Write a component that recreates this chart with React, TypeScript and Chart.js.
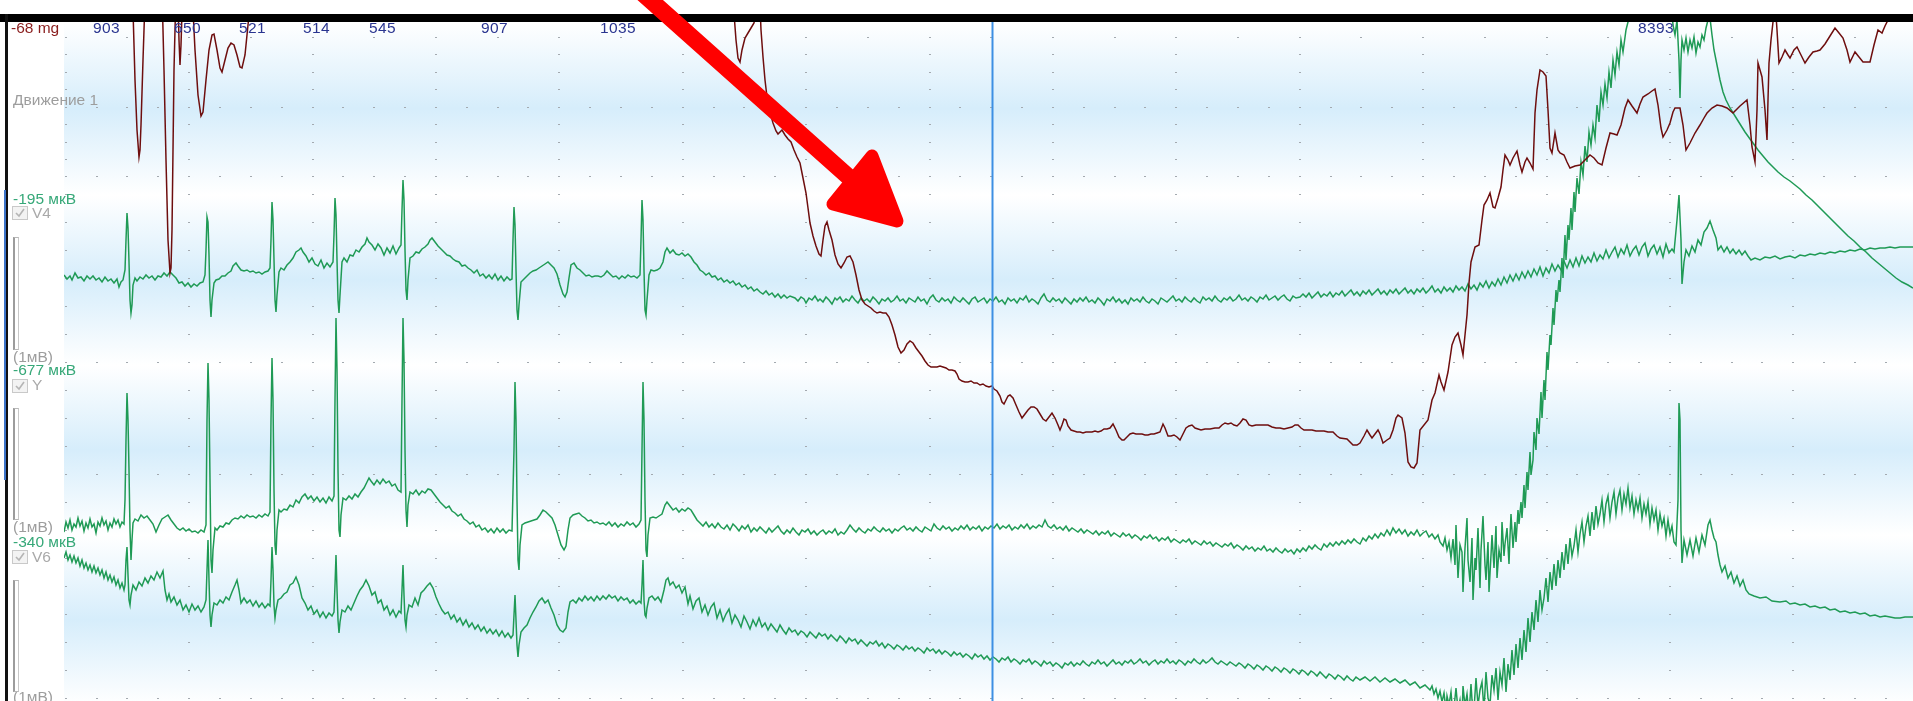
import React, { useEffect, useRef } from "react";
import { Chart, registerables } from "chart.js";

Chart.register(...registerables);

// ---------------- data (x = sample number, y = amplitude in display units, up positive) ----------------
const BEATS = [126, 207, 272, 336, 402, 514, 642, 1680];
const RR_MS = [903, 650, 521, 514, 545, 907, 1035, 8393];
const CURSOR_SAMPLE = 992;

// channel baselines on the shared vertical axis
const OFFSET_MOTION = 501;
const OFFSET_V4 = 421;
const OFFSET_Y = 171;
const OFFSET_V6 = 141;

const MOTION = [64,260, 100,280, 128,240, 133,190, 135,120, 137,70, 139,43, 140,50, 141,75, 143,140, 145,200, 148,260, 158,260, 162,210, 164,130, 166,40, 168,-40, 170,-73, 171,-68, 172,-30, 173,50, 174,130, 176,210, 177,240, 179,160, 180,135, 181,155, 183,220, 187,250, 192,210, 195,150, 198,105, 201,84, 203,88, 206,120, 209,150, 212,165, 214,166, 217,150, 220,132, 222,128, 225,140, 228,152, 231,157, 234,155, 237,145, 240,133, 242,132, 245,145, 247,165, 249,185, 252,220, 260,260, 400,280, 600,290, 725,240, 733,200, 736,160, 738,142, 740,138, 742,150, 745,162, 748,167, 751,172, 754,177, 756,190, 758,210, 760,195, 761,170, 763,143, 765,120, 767,103, 770,88, 773,77, 776,69, 778,66, 780,68, 782,70, 785,65, 788,61, 791,58, 794,50, 797,43, 800,37, 803,22, 806,7, 808,-8, 810,-23, 813,-36, 816,-46, 819,-54, 821,-56, 823,-40, 825,-26, 827,-22, 829,-30, 832,-40, 835,-55, 838,-64, 841,-68, 844,-63, 847,-57, 850,-56, 853,-62, 856,-75, 859,-90, 862,-100, 865,-104, 868,-106, 871,-108, 874,-111, 877,-113, 880,-112, 883,-113, 886,-113, 889,-117, 892,-125, 895,-135, 898,-147, 901,-153, 904,-150, 907,-144, 910,-141, 913,-143, 916,-148, 919,-152, 922,-156, 925,-161, 928,-165, 931,-167, 934,-167, 937,-167, 940,-166, 943,-167, 946,-168, 949,-170, 952,-170, 955,-171, 957,-174, 959,-179, 962,-181, 965,-182, 968,-182, 971,-181, 974,-183, 977,-183, 980,-185, 983,-184, 986,-186, 989,-187, 992,-186, 994,-189, 997,-191, 1000,-196, 1002,-202, 1004,-204, 1006,-200, 1008,-196, 1010,-195, 1013,-198, 1016,-205, 1019,-212, 1022,-218, 1025,-214, 1028,-210, 1031,-207, 1034,-207, 1037,-209, 1040,-214, 1043,-219, 1046,-221, 1049,-217, 1052,-213, 1055,-218, 1058,-225, 1060,-230, 1062,-225, 1064,-219, 1066,-220, 1068,-226, 1071,-230, 1074,-231, 1077,-232, 1080,-232, 1083,-233, 1086,-232, 1089,-232, 1092,-232, 1095,-231, 1098,-232, 1101,-231, 1104,-229, 1107,-229, 1110,-228, 1113,-224, 1116,-230, 1119,-237, 1122,-240, 1124,-240, 1127,-237, 1130,-234, 1133,-233, 1136,-234, 1139,-234, 1142,-234, 1145,-235, 1148,-235, 1151,-234, 1154,-234, 1157,-233, 1160,-232, 1163,-224, 1165,-228, 1168,-236, 1171,-236, 1174,-235, 1177,-237, 1180,-240, 1183,-234, 1186,-228, 1189,-226, 1192,-225, 1195,-228, 1198,-229, 1201,-230, 1205,-229, 1210,-229, 1215,-228, 1219,-228, 1222,-225, 1225,-223, 1228,-224, 1231,-223, 1234,-225, 1237,-226, 1240,-223, 1243,-219, 1246,-220, 1249,-225, 1252,-226, 1256,-225, 1260,-225, 1264,-225, 1268,-225, 1272,-227, 1276,-228, 1280,-228, 1284,-229, 1288,-228, 1292,-227, 1295,-225, 1298,-225, 1301,-228, 1304,-230, 1308,-230, 1312,-230, 1316,-231, 1320,-231, 1324,-231, 1328,-232, 1333,-232, 1337,-236, 1340,-238, 1347,-239, 1353,-245, 1357,-245, 1360,-243, 1364,-236, 1367,-230, 1370,-235, 1372,-238, 1375,-234, 1378,-230, 1380,-234, 1383,-243, 1387,-240, 1390,-238, 1393,-230, 1396,-218, 1398,-215, 1402,-218, 1405,-233, 1408,-262, 1411,-267, 1414,-268, 1417,-263, 1420,-230, 1424,-225, 1428,-220, 1432,-200, 1435,-193, 1439,-175, 1441,-182, 1444,-190, 1448,-172, 1452,-145, 1455,-137, 1458,-133, 1461,-145, 1463,-155, 1465,-135, 1467,-115, 1469,-83, 1471,-62, 1475,-47, 1479,-45, 1482,-20, 1484,-5, 1487,0, 1490,7, 1493,-7, 1495,-8, 1498,2, 1501,13, 1503,30, 1505,45, 1508,40, 1510,35, 1513,42, 1517,49, 1520,35, 1522,28, 1525,38, 1527,42, 1530,37, 1533,31, 1535,87, 1537,110, 1540,130, 1543,128, 1546,124, 1548,90, 1550,52, 1552,47, 1555,67, 1558,50, 1560,47, 1564,45, 1567,38, 1570,32, 1575,34, 1580,35, 1585,40, 1590,45, 1594,42, 1598,37, 1602,35, 1606,52, 1610,67, 1614,66, 1617,65, 1621,75, 1625,92, 1628,100, 1632,94, 1637,87, 1640,96, 1643,103, 1648,106, 1652,109, 1655,111, 1658,95, 1661,72, 1663,63, 1667,70, 1670,77, 1673,88, 1675,92, 1680,92, 1683,75, 1686,50, 1690,57, 1695,67, 1700,75, 1704,82, 1707,87, 1712,92, 1717,95, 1722,94, 1727,92, 1733,87, 1740,94, 1747,100, 1750,75, 1752,53, 1755,38, 1757,90, 1758,137, 1760,130, 1762,123, 1765,90, 1767,60, 1768,100, 1769,137, 1771,160, 1773,178, 1775,200, 1777,170, 1779,137, 1782,143, 1785,150, 1788,145, 1790,142, 1794,150, 1797,153, 1801,145, 1805,137, 1809,143, 1813,148, 1817,149, 1820,150, 1825,156, 1830,164, 1835,172, 1839,167, 1843,162, 1847,150, 1850,138, 1853,144, 1855,148, 1859,143, 1863,138, 1867,138, 1870,138, 1874,155, 1878,170, 1882,167, 1885,174, 1887,178, 1890,192, 1895,210, 1913,240];

const V4 = [64,5, 67,1, 70,4, 72,0, 75,7, 78,2, 81,3, 84,-1, 87,4, 90,1, 93,4, 96,0, 99,2, 102,-2, 105,3, 108,-1, 111,1, 114,-3, 117,1, 119,-7, 121,-2, 123,0,
125,10, 126,40, 127,67, 128,52, 129,18, 130,-20, 131,-33, 132,-25, 133,-5, 135,2,
137,-1, 140,3, 143,1, 146,5, 149,2, 152,4, 155,0, 158,4, 161,3, 164,7, 167,4, 170,8, 173,5, 176,2, 179,-3, 182,-2, 185,-6, 188,-3, 191,-7, 194,-4, 197,-6, 200,-3, 203,-2, 205,5,
206,30, 207,63, 208,58, 209,25, 210,-20, 211,-37, 212,-20, 214,-3,
216,0, 219,1, 222,4, 225,4, 228,7, 231,9, 233,14, 236,17, 238,14, 241,10, 244,9, 247,10, 250,8, 253,9, 256,7, 259,8, 262,6, 265,8, 268,9, 270,12,
271,40, 272,78, 273,60, 274,20, 275,-20, 276,-32, 277,-15, 279,8,
281,12, 284,10, 287,15, 290,18, 293,22, 296,28, 299,30, 301,32, 303,28, 306,24, 309,18, 312,22, 315,16, 318,14, 321,20, 324,12, 327,17, 330,13, 333,18,
334,45, 335,82, 336,65, 337,20, 338,-20, 339,-33, 340,-15, 342,18,
344,22, 347,18, 350,25, 353,24, 356,30, 359,28, 362,33, 365,36, 367,42, 369,38, 372,35, 375,30, 378,36, 381,32, 384,25, 387,32, 390,27, 393,34, 396,26, 399,32, 401,35,
402,70, 403,100, 404,80, 405,30, 406,-10, 407,-20, 408,0, 410,22,
413,24, 416,28, 419,27, 422,31, 425,33, 428,36, 430,40, 432,42, 435,38, 438,34, 441,31, 444,28, 447,25, 450,24, 453,21, 456,19, 459,18, 462,14, 465,15, 468,12, 471,10, 474,7, 477,10, 480,4, 483,6, 486,2, 489,5, 492,1, 495,6, 498,0, 501,4, 504,-1, 507,3, 510,0, 512,1,
513,40, 514,73, 515,55, 516,10, 517,-30, 518,-40, 519,-25, 521,-2,
524,1, 527,4, 530,7, 533,9, 536,10, 539,12, 542,14, 545,16, 548,18, 551,15, 554,12, 557,6, 560,-5, 563,-14, 565,-17, 567,-12, 569,2, 571,15, 574,17, 577,12, 580,10, 583,7, 586,4, 589,5, 592,3, 595,4, 598,4, 601,3, 604,5, 607,9, 610,6, 613,3, 616,4, 619,1, 622,4, 625,2, 628,5, 631,3, 634,4, 637,2, 640,5,
641,40, 642,80, 643,60, 644,10, 645,-30, 646,-35, 647,-20, 649,5,
651,10, 654,9, 657,10, 660,12, 663,18, 665,28, 667,32, 670,27, 673,30, 676,26, 679,25, 682,27, 685,24, 688,26, 691,23, 694,18, 697,15, 700,10, 703,8, 706,5, 709,7, 712,3, 715,4, 718,0, 721,2, 724,-2, 727,0, 730,-3, 733,-1, 736,-5, 739,-3, 742,-7, 745,-5, 748,-9, 751,-7, 754,-11, 757,-9, 760,-12, 763,-14, 766,-11, 769,-15, 772,-13, 775,-17, 778,-14, 781,-18, 784,-15, 787,-18, 790,-16,
795,-18, 798,-21, 801,-17, 804,-19, 806,-23, 809,-18, 812,-20, 815,-16, 818,-21, 820,-19, 823,-22, 826,-17, 829,-20, 832,-24, 835,-18, 837,-20, 840,-17, 843,-22, 846,-19, 849,-21, 852,-16, 855,-20, 858,-23, 861,-18, 864,-21, 867,-19, 870,-22, 873,-17, 876,-20, 879,-24, 882,-19, 885,-21, 888,-18, 891,-22, 894,-20, 897,-16, 900,-21, 903,-19, 906,-23, 909,-18, 912,-20, 915,-22, 918,-17, 921,-21, 924,-19, 927,-24, 930,-18, 933,-15, 936,-20, 939,-22, 942,-18, 945,-21, 948,-19, 951,-23, 954,-17, 957,-20, 960,-22, 963,-18, 966,-21, 969,-24, 972,-19, 975,-17, 978,-22, 981,-20, 984,-18, 987,-23, 990,-19, 993,-21, 996,-17, 999,-22, 1002,-20, 1005,-24, 1008,-18, 1011,-21, 1014,-19, 1017,-23, 1020,-18, 1023,-20, 1026,-16, 1029,-22, 1032,-19, 1035,-21, 1038,-24, 1041,-18, 1044,-14, 1047,-20, 1050,-22, 1053,-18, 1056,-21, 1059,-19, 1062,-23, 1065,-18, 1068,-21, 1071,-24, 1074,-19, 1077,-22, 1080,-18, 1083,-21, 1086,-17, 1089,-22, 1092,-20, 1095,-23, 1098,-18, 1101,-21, 1104,-25, 1107,-19, 1110,-21, 1113,-17, 1116,-22, 1119,-19, 1122,-23, 1125,-20, 1128,-24, 1131,-18, 1134,-21, 1137,-19, 1140,-22, 1143,-17, 1146,-21, 1149,-23, 1152,-19, 1155,-21, 1158,-24, 1161,-18, 1164,-20, 1167,-22, 1170,-19, 1173,-16, 1176,-21, 1179,-19, 1182,-22, 1185,-17, 1188,-20, 1191,-22, 1194,-18, 1197,-21, 1200,-23, 1203,-17, 1206,-20, 1209,-18, 1212,-21, 1215,-16, 1218,-20, 1221,-22, 1224,-18, 1227,-20, 1230,-17, 1233,-21, 1236,-19, 1239,-15, 1242,-20, 1245,-18, 1248,-21, 1251,-17, 1254,-19, 1257,-22, 1260,-17, 1263,-19, 1266,-15, 1269,-20, 1272,-18, 1275,-16, 1278,-20, 1281,-17, 1284,-15, 1287,-19, 1290,-21, 1293,-16, 1296,-18, 1300,-17,
1303,-14, 1306,-17, 1309,-13, 1312,-18, 1315,-15, 1318,-12, 1321,-17, 1324,-14, 1327,-16, 1330,-12, 1333,-17, 1336,-13, 1339,-15, 1342,-11, 1345,-16, 1348,-13, 1351,-10, 1354,-15, 1357,-12, 1360,-16, 1363,-11, 1366,-14, 1369,-10, 1372,-15, 1375,-12, 1378,-9, 1381,-14, 1384,-11, 1387,-15, 1390,-10, 1393,-13, 1396,-9, 1399,-14, 1402,-11, 1405,-8, 1408,-13, 1411,-10, 1414,-14, 1417,-9, 1420,-12, 1423,-8, 1426,-13, 1429,-10, 1432,-6, 1435,-12, 1438,-9, 1441,-13, 1444,-7, 1447,-11, 1450,-8, 1453,-12, 1456,-6, 1459,-10, 1462,-7, 1465,-11, 1468,-4, 1471,-9, 1474,-5, 1477,-10, 1480,-3, 1483,-7, 1486,-1, 1489,-8, 1492,-2, 1495,-6, 1498,1, 1501,-5, 1504,3, 1507,-3, 1510,5, 1513,-1, 1516,6, 1519,0, 1522,8, 1525,2, 1528,9, 1531,3, 1534,11, 1537,5, 1540,13, 1543,4, 1546,12, 1549,7, 1552,16, 1555,9, 1558,15, 1561,10, 1564,19, 1567,12, 1570,20, 1573,13, 1576,22, 1579,14, 1582,24, 1585,17, 1588,23, 1591,18, 1594,27, 1597,19, 1600,25, 1603,21, 1606,30, 1609,22, 1612,28, 1615,33, 1618,23, 1621,31, 1624,26, 1627,35, 1630,24, 1633,30, 1636,34, 1639,25, 1642,33, 1645,37, 1648,24, 1651,31, 1654,35, 1657,26, 1660,33, 1663,23, 1666,36, 1669,27, 1672,31, 1674,28,
1677,60, 1679,85, 1681,40, 1682,-4, 1684,18, 1686,30, 1689,24, 1692,34, 1695,28, 1698,40, 1701,35, 1704,48, 1707,52, 1710,59, 1713,50, 1716,42, 1718,30, 1721,34, 1724,28, 1727,33, 1730,27, 1733,31, 1736,26, 1739,30, 1742,25, 1745,29, 1748,24, 1751,20,
1755,22, 1760,20, 1765,23, 1770,22, 1775,24, 1780,21, 1785,23, 1790,24, 1795,22, 1800,25, 1805,24, 1810,26, 1815,25, 1820,27, 1825,26, 1830,28, 1835,27, 1840,29, 1845,28, 1850,30, 1855,29, 1860,31, 1865,30, 1870,32, 1875,31, 1880,32, 1885,32, 1890,33, 1895,32, 1900,33, 1905,33, 1913,33];

const YLEAD = [64,-2, 66,8, 68,2, 70,10, 72,0, 74,6, 76,3, 78,12, 80,4, 82,9, 84,-1, 86,7, 88,2, 90,11, 92,3, 94,6, 96,-3, 98,8, 100,4, 102,12, 104,5, 106,9, 108,0, 110,7, 112,3, 114,11, 116,6, 118,10, 120,3, 122,8, 124,6,
125,30, 126,90, 127,137, 128,110, 129,60, 130,0, 131,-30, 132,-10, 133,7,
135,11, 138,9, 141,15, 144,12, 147,14, 150,10, 153,6, 156,-2, 159,5, 162,11, 165,13, 168,15, 171,10, 174,6, 177,2, 180,0, 183,2, 186,-1, 189,1, 192,-2, 195,-1, 198,-3, 201,0, 204,-2, 206,5,
207,110, 208,167, 209,130, 210,50, 211,-30, 212,-43, 213,-20, 215,2,
217,0, 220,4, 223,3, 226,7, 229,6, 232,10, 235,12, 238,11, 241,14, 244,12, 247,15, 250,13, 253,14, 256,12, 259,15, 262,13, 265,16, 268,14, 270,18,
271,110, 272,172, 273,130, 274,40, 275,-15, 276,-25, 277,0, 279,20,
281,18, 284,21, 287,20, 290,25, 293,23, 296,30, 299,27, 302,33, 305,36, 308,31, 311,34, 314,29, 317,33, 320,28, 323,32, 326,27, 329,33, 332,29, 334,34,
335,130, 336,212, 337,160, 338,60, 339,0, 340,-7, 341,15, 343,32,
346,30, 349,34, 352,31, 355,36, 358,33, 361,38, 364,42, 367,48, 369,52, 371,49, 374,45, 377,50, 380,46, 383,51, 386,47, 389,49, 392,44, 395,46, 398,40, 401,38,
402,130, 403,212, 404,170, 405,80, 406,20, 407,3, 408,25, 410,38,
413,36, 416,40, 419,35, 422,39, 425,37, 428,41, 431,40, 434,36, 437,32, 440,28, 443,25, 446,22, 449,24, 452,19, 455,17, 458,14, 461,16, 464,11, 467,9, 470,6, 473,8, 476,3, 479,5, 482,0, 485,2, 488,-2, 491,1, 494,-3, 497,2, 500,-2, 503,1, 506,-3, 509,0, 512,-1,
514,80, 515,148, 516,110, 517,30, 518,-30, 519,-40, 520,-15, 522,5,
525,7, 528,8, 531,9, 534,10, 537,11, 540,15, 543,20, 546,18, 549,15, 552,12, 555,5, 558,-5, 561,-15, 564,-20, 566,-16, 568,0, 570,12, 573,15, 576,16, 579,17, 582,14, 585,12, 588,9, 591,10, 594,7, 597,8, 600,6, 603,7, 606,5, 609,8, 612,4, 615,7, 618,3, 621,6, 624,4, 627,8, 630,5, 633,7, 636,3, 639,6, 641,10,
642,80, 643,148, 644,110, 645,30, 646,-20, 647,-27, 648,-5, 650,12,
653,13, 656,12, 659,14, 662,16, 665,25, 667,28, 670,24, 673,20, 676,22, 679,18, 682,21, 685,19, 688,22, 691,20, 694,15, 697,10,
700,7, 703,4, 706,8, 709,3, 712,6, 715,2, 718,7, 721,3, 724,1, 727,5, 730,0, 733,6, 736,3, 739,-1, 742,4, 745,1, 748,5, 751,-2, 754,2, 757,-1, 760,3, 763,0, 766,-3, 769,2, 772,-2, 775,1, 778,4, 781,-1, 784,-4, 787,0, 790,-3, 793,2, 796,-2, 799,-5, 802,0, 805,-2, 808,1, 811,-4, 814,-1, 817,-5, 820,-2, 823,0, 826,-4, 829,-1, 832,-3, 835,1, 838,-5, 841,-2, 844,-4, 847,0, 850,5, 853,1, 856,-2, 859,2, 862,-1, 865,-3, 868,1, 871,-1, 874,3, 877,0, 880,-2, 883,2, 886,-1, 889,1, 892,-3, 895,1, 898,-1, 901,2, 904,4, 907,0, 910,2, 913,-1, 916,3, 919,0, 922,-2, 925,3, 928,1, 931,-1, 934,6, 937,2, 940,0, 943,4, 946,1, 949,3, 952,-1, 955,2, 958,0, 961,4, 964,1, 967,5, 970,0, 973,3, 976,1, 979,4, 982,-1, 985,3, 988,1, 991,4, 994,2, 997,6, 1000,1, 1003,4, 1006,2, 1009,5, 1012,0, 1015,3, 1018,1, 1021,5, 1024,2, 1027,6, 1030,1, 1033,4, 1036,2, 1039,5, 1042,3, 1045,10, 1048,4, 1051,2, 1054,5, 1057,1, 1060,3, 1063,0, 1066,4, 1069,-1, 1072,2, 1075,0, 1078,-2, 1081,1, 1084,-3, 1087,0, 1090,-2, 1093,-4, 1096,-1, 1099,-5, 1102,-2, 1105,-4, 1108,-1, 1111,-6, 1114,-3, 1117,-5, 1120,-7, 1123,-3, 1126,-6, 1129,-4, 1132,-8, 1135,-5, 1138,-7, 1141,-10, 1144,-6, 1147,-8, 1150,-5, 1153,-9, 1156,-7, 1159,-11, 1162,-8, 1165,-10, 1168,-7, 1171,-12, 1174,-9, 1177,-11, 1180,-13, 1183,-10, 1186,-12, 1189,-9, 1192,-14, 1195,-11, 1198,-13, 1201,-15, 1204,-11, 1207,-14, 1210,-12, 1213,-16, 1216,-13, 1219,-15, 1222,-17, 1225,-14, 1228,-16, 1231,-13, 1234,-18, 1237,-15, 1240,-17, 1243,-20, 1246,-16, 1249,-19, 1252,-17, 1255,-21, 1258,-18, 1261,-20, 1264,-16, 1267,-21, 1270,-19, 1273,-22, 1276,-18, 1279,-21, 1282,-23, 1285,-19, 1288,-22, 1291,-20, 1294,-24, 1297,-19, 1300,-22,
1303,-18, 1306,-21, 1309,-16, 1312,-19, 1315,-15, 1318,-18, 1321,-20, 1324,-14, 1327,-17, 1330,-13, 1333,-16, 1336,-12, 1339,-15, 1342,-11, 1345,-14, 1348,-10, 1351,-13, 1354,-9, 1357,-12, 1360,-14, 1363,-8, 1366,-11, 1369,-6, 1372,-9, 1375,-4, 1378,-8, 1381,-3, 1384,-6, 1387,0, 1390,-5, 1393,2, 1396,-3, 1399,1, 1402,-4, 1405,0, 1408,-6, 1411,-2, 1414,-5, 1417,0, 1420,-6, 1423,-3, 1426,-1, 1429,-7, 1432,-4, 1435,-9, 1438,-5, 1440,-12,
1443,-16, 1445,-8, 1447,-20, 1449,-12, 1451,-28, 1453,-9, 1455,-35, 1456,5, 1458,-48, 1460,-15, 1462,-22, 1463,-62, 1465,-18, 1467,12, 1468,-30, 1470,-52, 1472,-8, 1473,-70, 1475,-28, 1476,-40, 1478,2, 1480,-58, 1481,-20, 1483,14, 1485,-35, 1486,-50, 1488,-12, 1489,-62, 1491,-25, 1492,-5, 1494,-38, 1496,4, 1497,-48, 1499,-20, 1501,-32, 1502,8, 1504,-26, 1505,-14, 1507,2, 1509,-34, 1510,-6, 1511,16, 1513,-18, 1515,8, 1516,-12, 1518,20, 1519,6, 1521,28, 1522,12, 1524,45, 1525,22, 1527,58, 1528,40, 1530,78, 1531,55, 1533,70, 1534,98, 1536,80, 1537,112, 1539,96, 1541,138, 1542,112, 1544,150, 1545,130, 1547,178, 1548,160, 1550,195, 1551,185, 1553,222, 1554,205, 1556,240, 1557,228, 1559,250, 1560,238, 1562,272, 1563,252, 1565,295, 1566,270, 1568,305, 1569,290, 1571,322, 1572,300, 1574,338, 1575,318, 1577,352, 1579,336, 1581,368, 1583,355, 1585,384, 1587,368, 1589,398, 1591,385, 1593,405, 1595,392, 1597,425, 1599,408, 1601,438, 1603,425, 1605,446, 1607,432, 1609,458, 1611,442, 1613,470, 1615,455, 1617,478, 1619,465, 1621,490, 1623,478, 1626,500, 1629,512, 1632,525,
1640,550, 1660,560, 1670,540, 1673,505, 1675,495, 1677,510, 1679,470, 1680,432, 1681,470, 1682,490, 1684,480, 1686,492, 1688,478, 1690,490, 1692,482, 1694,493, 1696,477, 1698,488, 1700,483, 1702,495, 1704,490, 1706,502, 1708,510, 1710,512, 1712,495, 1714,480, 1717,465, 1720,450, 1723,438, 1726,430, 1730,422, 1735,414, 1740,406, 1745,398, 1750,391, 1753,387, 1758,380, 1763,374, 1768,368, 1773,363, 1778,358, 1784,353, 1790,349, 1795,345, 1800,341, 1806,335, 1812,330, 1818,324, 1824,318, 1830,312, 1836,306, 1842,300, 1848,294, 1854,289, 1860,283, 1866,278, 1872,272, 1878,267, 1884,262, 1890,257, 1896,252, 1902,248, 1908,245, 1913,242];

const V6 = [64,2, 66,8, 68,0, 70,5, 72,-2, 74,4, 76,-3, 78,2, 80,-6, 82,0, 84,-8, 86,-3, 88,-10, 90,-5, 92,-12, 94,-6, 96,-13, 98,-8, 100,-15, 102,-10, 104,-18, 106,-12, 108,-20, 110,-15, 112,-22, 114,-17, 116,-25, 118,-20, 120,-28, 122,-23, 124,-30,
125,-25, 126,0, 127,13, 128,-15, 129,-40, 130,-45, 131,-35, 133,-25,
136,-30, 139,-22, 142,-26, 145,-18, 148,-23, 151,-16, 154,-20, 157,-12, 160,-18, 163,-11, 165,-30, 167,-40, 169,-34, 171,-42, 174,-37, 177,-45, 180,-40, 183,-50, 186,-45, 189,-52, 192,-44, 195,-50, 198,-46, 201,-52, 204,-47, 206,-40,
207,-10, 208,20, 209,-20, 210,-55, 211,-67, 212,-55, 214,-43,
217,-45, 220,-40, 223,-43, 226,-37, 229,-40, 232,-32, 235,-25, 237,-20, 239,-30, 241,-43, 244,-38, 247,-43, 250,-40, 253,-46, 256,-41, 259,-47, 262,-43, 265,-48, 268,-44, 270,-46,
271,-20, 272,13, 273,-10, 274,-45, 275,-58, 276,-50, 278,-40,
281,-38, 284,-34, 287,-32, 290,-25, 293,-23, 296,-17, 299,-25, 302,-38, 305,-43, 308,-50, 311,-46, 314,-54, 317,-50, 320,-57, 323,-52, 326,-58, 329,-53, 332,-56, 334,-52,
335,-25, 336,5, 337,-30, 338,-60, 339,-73, 340,-62, 342,-50,
345,-52, 348,-46, 351,-50, 354,-43, 357,-36, 360,-30, 363,-26, 366,-20, 369,-26, 372,-35, 375,-32, 378,-43, 381,-40, 384,-50, 387,-46, 390,-55, 393,-50, 396,-57, 399,-51, 401,-53,
402,-30, 403,-5, 404,-35, 405,-60, 406,-67, 407,-55, 409,-45,
412,-47, 415,-38, 418,-45, 421,-33, 424,-30, 427,-26, 430,-23, 433,-28, 436,-37, 439,-44, 442,-50, 445,-54, 448,-52, 451,-59, 454,-55, 457,-62, 460,-58, 463,-65, 466,-60, 469,-67, 472,-63, 475,-69, 478,-65, 481,-71, 484,-67, 487,-73, 490,-69, 493,-74, 496,-70, 499,-76, 502,-71, 505,-77, 508,-73, 511,-78, 513,-75,
514,-55, 515,-35, 516,-60, 517,-85, 518,-97, 519,-85, 521,-72,
524,-68, 527,-65, 530,-58, 533,-52, 536,-47, 539,-41, 542,-38, 545,-43, 548,-40, 551,-48, 554,-55, 557,-65, 560,-70, 563,-72, 566,-68, 568,-52, 570,-42, 573,-40, 576,-43, 579,-38, 582,-41, 585,-36, 588,-40, 591,-37, 594,-41, 597,-36, 600,-40, 603,-36, 606,-39, 609,-35, 612,-38, 615,-36, 618,-41, 621,-37, 624,-40, 627,-38, 630,-43, 633,-40, 636,-44, 639,-41, 641,-43,
642,-25, 643,0, 644,-40, 645,-55, 646,-57, 647,-48, 649,-38,
652,-36, 655,-40, 658,-37, 661,-42, 664,-30, 666,-20, 668,-18, 670,-25, 673,-22, 676,-28, 679,-25,
682,-33, 685,-27, 688,-44, 690,-36, 693,-49, 696,-41, 699,-38, 702,-52, 705,-45, 708,-55, 711,-47, 714,-43, 717,-58, 720,-50, 723,-61, 726,-54, 729,-49, 732,-63, 735,-55, 738,-60, 741,-67, 744,-56, 747,-62, 750,-69, 753,-60, 756,-66, 759,-58, 762,-67, 765,-63, 768,-70, 771,-64, 774,-68, 777,-72, 780,-65, 783,-70, 786,-74, 789,-68, 792,-72, 795,-70, 798,-75, 801,-71, 804,-73, 807,-77, 810,-72, 813,-75, 816,-78, 819,-73, 822,-76, 825,-74, 828,-79, 831,-75, 834,-78, 837,-81, 840,-76, 843,-79, 846,-83, 849,-78, 852,-81, 855,-79, 858,-84, 861,-80, 864,-83, 867,-86, 870,-82, 873,-84, 876,-81, 879,-86, 882,-83, 885,-88, 888,-84, 891,-86, 894,-89, 897,-85, 900,-87, 903,-90, 906,-86, 909,-89, 912,-87, 915,-91, 918,-88, 921,-90, 924,-93, 927,-88, 930,-91, 933,-89, 936,-93, 939,-90, 942,-94, 945,-91, 948,-93, 951,-96, 954,-92, 957,-95, 960,-93, 963,-97, 966,-94, 969,-96, 972,-99, 975,-94, 978,-97, 981,-95, 984,-99, 987,-96, 990,-100, 993,-97, 996,-99, 999,-102, 1002,-98, 1005,-100, 1008,-97, 1011,-102, 1014,-99, 1017,-101, 1020,-104, 1023,-100, 1026,-102, 1029,-99, 1032,-104, 1035,-101, 1038,-103, 1041,-106, 1044,-101, 1047,-104, 1050,-102, 1053,-106, 1056,-103, 1059,-105, 1062,-108, 1065,-103, 1068,-105, 1071,-102, 1074,-106, 1077,-103, 1080,-105, 1083,-101, 1086,-104, 1089,-106, 1092,-102, 1095,-104, 1098,-100, 1101,-104, 1104,-102, 1107,-106, 1110,-103, 1113,-100, 1116,-104, 1119,-102, 1122,-105, 1125,-101, 1128,-103, 1131,-100, 1134,-104, 1137,-102, 1140,-99, 1143,-103, 1146,-101, 1149,-105, 1152,-102, 1155,-100, 1158,-104, 1161,-101, 1164,-103, 1167,-99, 1170,-103, 1173,-101, 1176,-104, 1179,-100, 1182,-102, 1185,-105, 1188,-101, 1191,-103, 1194,-99, 1197,-102, 1200,-104, 1203,-100, 1206,-103, 1209,-101, 1212,-98, 1215,-102, 1218,-104, 1221,-101, 1224,-103, 1227,-105, 1230,-102, 1233,-104, 1236,-106, 1239,-103, 1242,-105, 1245,-108, 1248,-104, 1251,-106, 1254,-109, 1257,-105, 1260,-107, 1263,-110, 1266,-106, 1269,-108, 1272,-111, 1275,-107, 1278,-109, 1281,-112, 1284,-108, 1287,-110, 1290,-113, 1293,-109, 1296,-111, 1299,-114, 1302,-110, 1305,-112, 1308,-115, 1311,-111, 1314,-113, 1317,-116, 1320,-112, 1323,-115, 1326,-118, 1329,-114, 1332,-116, 1335,-119, 1338,-115, 1341,-117, 1344,-120, 1347,-116, 1350,-119, 1353,-121, 1356,-117, 1360,-120,
1365,-117, 1370,-121, 1375,-117, 1380,-122, 1385,-118, 1390,-122, 1395,-119, 1400,-123, 1405,-120, 1410,-125, 1415,-122, 1420,-128, 1425,-125,
1430,-130, 1432,-126, 1434,-134, 1436,-129, 1438,-138, 1440,-131, 1442,-142, 1444,-133, 1446,-150, 1447,-136, 1449,-145, 1451,-132, 1453,-156, 1455,-138, 1456,-128, 1458,-150, 1460,-140, 1462,-158, 1463,-126, 1465,-146, 1467,-134, 1469,-155, 1471,-124, 1472,-140, 1474,-150, 1476,-118, 1478,-146, 1480,-130, 1482,-122, 1484,-150, 1486,-112, 1488,-138, 1490,-145, 1492,-115, 1494,-130, 1496,-108, 1498,-140, 1500,-112, 1502,-125, 1504,-98, 1506,-132, 1508,-104, 1510,-120, 1512,-90, 1514,-115, 1516,-84, 1518,-108, 1520,-78, 1522,-100, 1524,-70, 1526,-92, 1528,-58, 1530,-82, 1532,-52, 1534,-70, 1536,-40, 1538,-62, 1540,-30, 1542,-50, 1544,-38, 1546,-18, 1548,-42, 1550,-12, 1552,-30, 1554,-4, 1556,-26, 1558,0, 1560,-18, 1562,8, 1564,-10, 1566,16, 1568,-4, 1570,22, 1572,4, 1574,14, 1576,30, 1578,8, 1580,26, 1582,38, 1584,18, 1586,34, 1588,44, 1590,24, 1592,48, 1594,30, 1596,54, 1598,36, 1600,46, 1602,60, 1604,38, 1606,56, 1608,64, 1610,42, 1612,58, 1614,68, 1616,46, 1618,62, 1620,70, 1622,50, 1624,66, 1626,56, 1628,72, 1630,52, 1632,64, 1634,46, 1636,60, 1638,50, 1640,62, 1642,42, 1644,56, 1646,46, 1648,58, 1650,36, 1652,52, 1654,40, 1656,50, 1658,30, 1660,46, 1662,34, 1664,42, 1666,24, 1668,40, 1670,26, 1672,34, 1674,18, 1676,15,
1678,60, 1679,157, 1680,140, 1681,30, 1682,-3, 1684,20, 1687,5, 1690,20, 1693,4, 1696,22, 1699,8, 1702,25, 1705,15, 1708,35, 1710,40, 1712,30, 1714,22, 1716,18, 1718,5, 1720,-5, 1722,-12, 1725,-6, 1728,-18, 1731,-12, 1734,-23, 1737,-16, 1740,-26, 1743,-20, 1746,-30, 1749,-34,
1754,-36, 1760,-38, 1766,-37, 1772,-41, 1780,-42, 1786,-41, 1790,-44, 1795,-43, 1800,-45, 1805,-44, 1810,-47, 1815,-46, 1820,-48, 1825,-47, 1830,-50, 1835,-49, 1840,-52, 1845,-51, 1850,-53, 1855,-52, 1860,-54, 1865,-53, 1870,-56, 1875,-55, 1880,-57, 1885,-56, 1890,-57, 1895,-58, 1900,-58, 1905,-57, 1913,-57];

// annotation arrow (x sample, vertical axis value)
const ARROW_SHAFT = [630, 719, 870, 505];
const ARROW_HEAD = [897, 480, 833, 497, 872, 545];

// ---------------- layout ----------------
const W = 1913;
const H = 701;
const PLOT_LEFT = 64;
const PLOT_TOP = 22;
const Y_MAX = H - PLOT_TOP; // 679

const ROW_BANDS = [679, 506, 336, 166, -4];
const GRID_X0 = 64.7;
const GRID_DX = 30.85;
// [axis value, column step]
const GRID_ROWS = [
  [664, 2], [646.7, 4], [629, 4], [611.7, 4], [594, 1], [576.7, 4], [559, 4], [541.7, 4], [524.7, 1],
  [507.5, 4], [479.4, 4], [451.4, 4], [423.3, 4], [395.3, 4], [367.2, 4], [339.2, 1], [311.1, 4], [283.1, 4],
  [255, 4], [227, 1], [198.9, 4], [170.9, 4], [142.8, 4], [114.8, 4], [86.7, 4], [58.7, 4], [30.6, 4], [2.6, 1],
];

const GREEN = "#1f9a55";
const BROWN = "#6e0e0e";
const LABEL_GREEN = "#36a878";
const FONT = '"Liberation Sans", Arial, sans-serif';

function toPoints(flat: number[], offset: number) {
  const out: { x: number; y: number }[] = [];
  for (let i = 0; i < flat.length; i += 2) out.push({ x: flat[i], y: offset + flat[i + 1] });
  return out;
}

const backgroundPlugin = {
  id: "ecgBackground",
  beforeDraw(chart: any) {
    const { ctx, chartArea: a, scales } = chart;
    const ys = scales.y;
    const xs = scales.x;
    ctx.save();
    ctx.fillStyle = "#ffffff";
    ctx.fillRect(0, 0, chart.width, chart.height);
    for (let i = 0; i < ROW_BANDS.length - 1; i++) {
      const t = ys.getPixelForValue(ROW_BANDS[i]);
      const b = ys.getPixelForValue(ROW_BANDS[i + 1]);
      const g = ctx.createLinearGradient(0, t, 0, b);
      g.addColorStop(0, "#ffffff");
      g.addColorStop(0.5, "#d6edfb");
      g.addColorStop(1, "#ffffff");
      ctx.fillStyle = g;
      const top = Math.max(t, a.top);
      const bot = Math.min(b, a.bottom);
      ctx.fillRect(a.left, top, a.right - a.left, bot - top);
    }
    ctx.fillStyle = "#a3a9af";
    for (const [v, step] of GRID_ROWS) {
      const py = Math.round(ys.getPixelForValue(v));
      for (let k = 0; ; k += step) {
        const sx = GRID_X0 + GRID_DX * k;
        if (sx > W) break;
        const px = Math.round(xs.getPixelForValue(sx));
        ctx.fillRect(px, py, 2, 1);
      }
    }
    ctx.restore();
  },
  afterDatasetsDraw(chart: any) {
    const { ctx, chartArea: a, scales } = chart;
    const xs = scales.x;
    ctx.save();
    const cx = Math.round(xs.getPixelForValue(CURSOR_SAMPLE)) + 0.5;
    ctx.strokeStyle = "#3d8fe3";
    ctx.lineWidth = 2;
    ctx.beginPath();
    ctx.moveTo(cx, a.top);
    ctx.lineTo(cx, a.bottom);
    ctx.stroke();
    ctx.fillStyle = "#000000";
    ctx.fillRect(0, 14, W, 8);
    ctx.fillStyle = "#111111";
    ctx.fillRect(5, 14, 3, H - 14);
    ctx.fillStyle = "#3d74c9";
    ctx.fillRect(4, 190, 2, 290);
    ctx.restore();
  },
  afterDraw(chart: any) {
    const { ctx, scales } = chart;
    const xs = scales.x;
    const ys = scales.y;
    const P = (x: number, y: number) => [xs.getPixelForValue(x), ys.getPixelForValue(y)];
    ctx.save();
    ctx.strokeStyle = "#ff0000";
    ctx.fillStyle = "#ff0000";
    ctx.lineCap = "round";
    ctx.lineJoin = "round";
    const [s0x, s0y] = P(ARROW_SHAFT[0], ARROW_SHAFT[1]);
    const [s1x, s1y] = P(ARROW_SHAFT[2], ARROW_SHAFT[3]);
    ctx.lineWidth = 17;
    ctx.beginPath();
    ctx.moveTo(s0x, s0y);
    ctx.lineTo(s1x, s1y);
    ctx.stroke();
    ctx.lineWidth = 13;
    ctx.beginPath();
    for (let i = 0; i < ARROW_HEAD.length; i += 2) {
      const [hx, hy] = P(ARROW_HEAD[i], ARROW_HEAD[i + 1]);
      if (i === 0) ctx.moveTo(hx, hy);
      else ctx.lineTo(hx, hy);
    }
    ctx.closePath();
    ctx.fill();
    ctx.stroke();
    ctx.restore();
  },
};

const labelBase: React.CSSProperties = {
  position: "absolute",
  fontFamily: FONT,
  fontSize: 15.5,
  lineHeight: "16px",
  whiteSpace: "nowrap",
};

function CheckBox({ top }: { top: number }) {
  return (
    <div
      style={{
        position: "absolute",
        left: 12,
        top,
        width: 14,
        height: 12,
        border: "1px solid #c9c9c9",
        background: "#f3f3f3",
      }}
    >
      <svg width="14" height="12" style={{ position: "absolute", left: 0, top: 0 }}>
        <polyline points="3,6 6,9 11,2" fill="none" stroke="#b5b5b5" strokeWidth="1.6" />
      </svg>
    </div>
  );
}

function ScaleBar({ top, height }: { top: number; height: number }) {
  return (
    <div
      style={{
        position: "absolute",
        left: 13,
        top,
        width: 3,
        height,
        borderTop: "1px solid #b8b8b8",
        borderBottom: "1px solid #b8b8b8",
        borderLeft: "2px solid #9c9c9c",
        borderRight: "1px solid #c8c8c8",
      }}
    />
  );
}

const CHANNEL_LABELS = [
  { text: "-68 mg", left: 11, mid: 28, color: "#8a1d1d" },
  { text: "Движение 1", left: 13, mid: 100, color: "#9d9d9d" },
  { text: "-195 мкВ", left: 13, mid: 199, color: LABEL_GREEN },
  { text: "V4", left: 32, mid: 213, color: "#a9a9a9" },
  { text: "(1мВ)", left: 13, mid: 357, color: "#9d9d9d" },
  { text: "-677 мкВ", left: 13, mid: 370, color: LABEL_GREEN },
  { text: "Y", left: 32, mid: 385, color: "#a9a9a9" },
  { text: "(1мВ)", left: 13, mid: 527, color: "#9d9d9d" },
  { text: "-340 мкВ", left: 13, mid: 542, color: LABEL_GREEN },
  { text: "V6", left: 32, mid: 557, color: "#a9a9a9" },
  { text: "(1мВ)", left: 13, mid: 697, color: "#9d9d9d" },
];

export default function App() {
  const canvasRef = useRef<HTMLCanvasElement | null>(null);

  useEffect(() => {
    const canvas = canvasRef.current;
    if (!canvas) return;
    const chart = new Chart(canvas, {
      type: "line",
      data: {
        datasets: [
          { label: "Движение 1", data: toPoints(MOTION, OFFSET_MOTION), borderColor: BROWN, borderWidth: 1.5 },
          { label: "V4", data: toPoints(V4, OFFSET_V4), borderColor: GREEN, borderWidth: 1.5 },
          { label: "Y", data: toPoints(YLEAD, OFFSET_Y), borderColor: GREEN, borderWidth: 1.5 },
          { label: "V6", data: toPoints(V6, OFFSET_V6), borderColor: GREEN, borderWidth: 1.5 },
        ],
      },
      options: {
        animation: false,
        responsive: false,
        devicePixelRatio: 1,
        events: [],
        parsing: false,
        layout: { padding: { left: PLOT_LEFT, top: PLOT_TOP, right: 0, bottom: 0 } },
        elements: { point: { radius: 0 }, line: { tension: 0, fill: false } },
        plugins: { legend: { display: false }, tooltip: { enabled: false }, title: { display: false } },
        scales: {
          x: { type: "linear", min: PLOT_LEFT, max: W, display: false },
          y: { type: "linear", min: 0, max: Y_MAX, display: false },
        },
      },
      plugins: [backgroundPlugin],
    } as any);
    return () => chart.destroy();
  }, []);

  return (
    <div style={{ position: "absolute", left: 0, top: 0, width: W, height: H, overflow: "hidden", background: "#fff" }}>
      <canvas ref={canvasRef} width={W} height={H} style={{ position: "absolute", left: 0, top: 0, width: W, height: H }} />
      <div style={{ position: "absolute", left: 0, top: 0, width: W, height: H, pointerEvents: "none" }}>
        {CHANNEL_LABELS.map((l, i) => (
          <div key={i} style={{ ...labelBase, left: l.left, top: l.mid - 8, color: l.color }}>
            {l.text}
          </div>
        ))}
        <CheckBox top={206} />
        <CheckBox top={379} />
        <CheckBox top={550} />
        <ScaleBar top={237} height={111} />
        <ScaleBar top={408} height={110} />
        <ScaleBar top={580} height={110} />
        {BEATS.map((b, i) => (
          <div
            key={"rr" + i}
            style={{ ...labelBase, left: b - 6, top: 20, color: "#2a3590", letterSpacing: 0.4, transform: "translateX(-100%)" }}
          >
            {RR_MS[i]}
          </div>
        ))}
      </div>
    </div>
  );
}
